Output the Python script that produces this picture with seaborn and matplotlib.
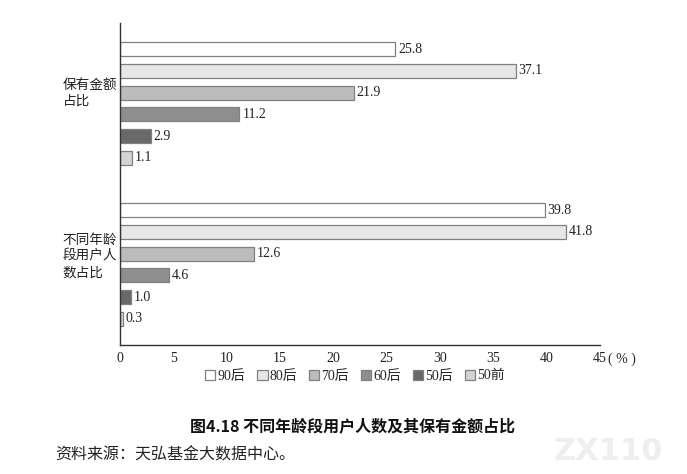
import matplotlib
matplotlib.use("Agg")
import matplotlib.pyplot as plt
import matplotlib.transforms as mtransforms
import seaborn as sns
import pandas as pd

# ---- data ----
categories = ["保有金额占比", "不同年龄段用户人数占比"]
category_labels = ["保有金额\n占比", "不同年龄\n段用户人\n数占比"]
age_groups = ["90后", "80后", "70后", "60后", "50后", "50前"]
holding_share = [25.8, 37.1, 21.9, 11.2, 2.9, 1.1]
user_share = [39.8, 41.8, 12.6, 4.6, 1.0, 0.3]
x_ticks = [0, 5, 10, 15, 20, 25, 30, 35, 40, 45]
title = "图4.18 不同年龄段用户人数及其保有金额占比"
source = "资料来源：天弘基金大数据中心。"

colors = ["#ffffff", "#e6e6e6", "#bcbcbc", "#8e8e8e", "#696969", "#d4d4d4"]

rows = []
for cat, vals in zip(categories, [holding_share, user_share]):
    for age, v in zip(age_groups, vals):
        rows.append({"category": cat, "age": age, "value": v})
df = pd.DataFrame(rows)

sns.set_style("white")
plt.rcParams["font.family"] = ["Liberation Serif", "Noto Sans CJK SC", "DejaVu Sans"]

fig = plt.figure(figsize=(6.87, 4.74), dpi=100)
ax = fig.add_axes([120 / 687, 1 - 345 / 474, 480 / 687, 322 / 474])

sns.barplot(data=df, y="category", x="value", hue="age", order=categories,
            hue_order=age_groups, palette=colors, orient="h", width=0.81,
            gap=0.36, edgecolor="#808080", linewidth=0.9, ax=ax, legend=True)

for cont in ax.containers:
    ax.bar_label(cont, labels=[f"{b.get_width():.1f}" for b in cont],
                 padding=2, fontsize=10, color="#222222",
                 family=["Liberation Serif"])

ax.set_xlim(0, 45)
ax.set_ylim(1.5, -0.5)
ax.set_xticks(x_ticks)
ax.set_xticklabels([str(t) for t in x_ticks], fontsize=10, color="#222222")
ax.set_yticks([-0.5, 0.5, 1.5])
ax.set_yticklabels([])
ax.tick_params(axis="x", direction="in", length=5, width=0.9, color="#333333", pad=5)
ax.tick_params(axis="y", direction="in", length=5, width=0.9, color="#333333")
ax.set_xlabel("")
ax.set_ylabel("")
for s in ["top", "right"]:
    ax.spines[s].set_visible(False)
for s in ["left", "bottom"]:
    ax.spines[s].set_color("#333333")
    ax.spines[s].set_linewidth(1.0)

# category labels
trans = mtransforms.blended_transform_factory(ax.transAxes, ax.transData)
label_y = [-0.065, 0.947]
for lab, yy in zip(category_labels, label_y):
    ax.text(-0.119, yy, lab, transform=trans, ha="left", va="center",
            fontsize=9.8, linespacing=1.2, color="#222222",
            family=["Noto Sans CJK SC", "DejaVu Sans"])

# percent unit after 45
ax.annotate("( % )", xy=(45, 0), xycoords=("data", "axes fraction"),
            xytext=(6, -5.5), textcoords="offset points", ha="left", va="top",
            fontsize=10, color="#222222")

# legend
handles, labels = ax.get_legend_handles_labels()
ax.legend_.remove()
fig.legend(handles, labels, loc="center", bbox_to_anchor=(355 / 687, 1 - 376 / 474),
           ncol=6, frameon=False, handlelength=0.75,
           handleheight=0.75, handletextpad=0.15, columnspacing=0.85,
           prop={"family": ["Liberation Serif", "Noto Sans CJK SC"], "size": 10})

fig.text(353 / 687, 1 - 426 / 474, title, ha="center", va="center",
         fontsize=11.5, fontweight="bold", color="#111111",
         family=["Noto Sans CJK SC", "DejaVu Sans"])
fig.text(55 / 687, 1 - 455 / 474, source, ha="left", va="center",
         fontsize=11.5, color="#222222",
         family=["Noto Sans CJK SC", "DejaVu Sans"])
fig.text(608 / 687, 1 - 452 / 474, "ZX110", ha="center", va="center",
         fontsize=22, color="#eeeeee", fontweight="bold",
         family=["DejaVu Sans"])

fig.savefig("out.png", dpi=100)
